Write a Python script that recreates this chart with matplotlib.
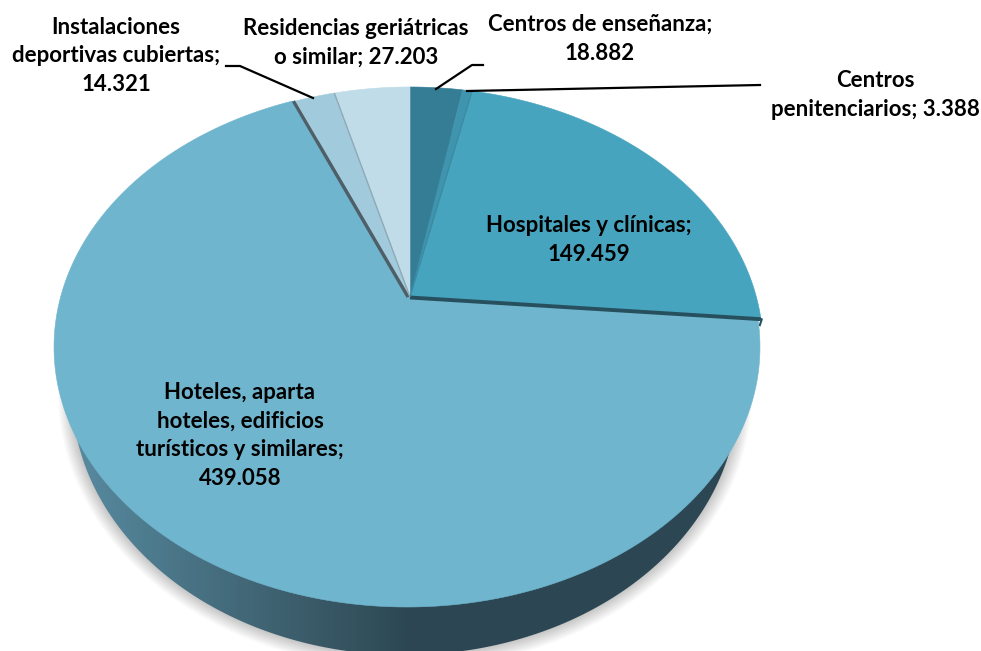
import numpy as np
import matplotlib
matplotlib.use('Agg')
import matplotlib.pyplot as plt
from matplotlib.colors import LinearSegmentedColormap
from matplotlib.patches import Polygon

# clockwise from the top of the pie
categories = ['Centros de enseñanza', 'Centros penitenciarios', 'Hospitales y clínicas',
              'Hoteles, aparta hoteles, edificios turísticos y similares',
              'Instalaciones deportivas cubiertas', 'Residencias geriátricas o similar']
values = [18.882, 3.388, 149.459, 439.058, 14.321, 27.203]
value_labels = ['18.882', '3.388', '149.459', '439.058', '14.321', '27.203']
colors = ['#357c95', '#3f94ae', '#47a4bf', '#70b5ce', '#a1cbdc', '#c0dce8']

plt.rcParams['font.family'] = ['Lato', 'DejaVu Sans']
plt.rcParams['font.weight'] = 'bold'
FS = 16

fig = plt.figure(figsize=(9.81, 6.51), dpi=100)
ax = fig.add_axes([0, 0, 1, 1])
ax.set_xlim(0, 981)
ax.set_ylim(651, 0)
ax.axis('off')

# tilted disc: circle seen in perspective, apex sits above the ellipse centre
cx, cy = 410, 297
a, b, k = 346.4, 250.4, 0.1923


def rim(theta):
    # theta in radians, clockwise from top
    u, v = np.sin(theta), np.cos(theta)
    w = 1 + k * v
    return cx + a * u / w, cy - b * v / w


# side of the disc, a second ellipse lower down
bx, by, ba, bb = 405, 393, 333, 262
t = np.linspace(0, 2 * np.pi, 400)
x_bot = bx + ba * np.cos(t)
y_bot = by + bb * np.sin(t)

# soft shadow round the side
for grow in np.linspace(14, 1, 14):
    ax.fill(bx + (ba + grow) * np.cos(t), by + (bb + grow) * np.sin(t),
            color='#000000', alpha=0.016, lw=0, zorder=1)

side = Polygon(np.column_stack([x_bot, y_bot]), closed=True, transform=ax.transData,
               fc='none', ec='none')
ax.add_patch(side)
grad = LinearSegmentedColormap.from_list(
    'side', [(0, '#5a8da3'), (0.12, '#4e7c8f'), (0.34, '#3c5d6b'), (0.5, '#2c4753'), (1, '#2c4753')])
im = ax.imshow(np.linspace(0, 1, 512).reshape(1, -1), cmap=grad, aspect='auto',
               extent=[60, 760, 651, 0], zorder=2)
im.set_clip_path(side)
ax.set_xlim(0, 981)
ax.set_ylim(651, 0)

# top face, the hotel slice is pulled out a little to the left
edges = np.radians(np.concatenate([[0], np.cumsum(values)]) / sum(values) * 360)

# dark wall under the hotel slice edges
xr, yr = rim(edges[3])
ax.plot([cx, xr + 1, xr - 1], [cy, yr + 1, yr + 7], color='#27505f', lw=1.5, zorder=2.5)
for i in range(len(values)):
    th = np.linspace(edges[i], edges[i + 1], 200)
    xr, yr = rim(th)
    dx = -3 if i == 3 else 0
    ax.fill(np.r_[cx, xr] + dx, np.r_[cy, yr], color=colors[i], lw=0.4, zorder=3)

# dark edges between the slices
xr, yr = rim(edges[2])
ax.plot([cx, xr], [cy, yr], color='#3d8aa3', lw=1.0, zorder=4, solid_capstyle='butt')
xr, yr = rim(edges[3])
ax.plot([cx, xr], [cy + 0.5, yr + 1], color='#27505f', lw=2.8, zorder=4, solid_capstyle='butt')
xr, yr = rim(edges[4])
ax.plot([cx - 2, xr - 2], [cy, yr], color='#4f5f68', lw=2.4, zorder=4, solid_capstyle='butt')
xr, yr = rim(edges[5])
ax.plot([cx, xr], [cy, yr], color='#8ea9b5', lw=1.0, zorder=4, solid_capstyle='butt')

# leader lines
ax.plot([226, 240, 313], [66, 66, 98], color='black', lw=1.6, zorder=5)
ax.plot([436, 472, 483], [89, 65, 65], color='black', lw=1.6, zorder=5)
ax.plot([467, 760], [91, 85], color='black', lw=1.6, zorder=5)

# labels
label_text = [
    'Centros de enseñanza;\n' + value_labels[0],
    'Centros\npenitenciarios; ' + value_labels[1],
    'Hospitales y clínicas;\n' + value_labels[2],
    'Hoteles, aparta\nhoteles, edificios\nturísticos y similares;\n' + value_labels[3],
    'Instalaciones\ndeportivas cubiertas;\n' + value_labels[4],
    'Residencias geriátricas\no similar; ' + value_labels[5],
]
label_xy = [(600, 39), (875, 95), (589, 240), (240, 435.5), (116, 56), (356, 42.5)]
for s, (x, y) in zip(label_text, label_xy):
    ax.text(x, y, s, ha='center', va='center', fontsize=FS, fontweight='bold',
            color='black', linespacing=1.45, zorder=6)

fig.savefig('out.png', dpi=100, facecolor='white')
